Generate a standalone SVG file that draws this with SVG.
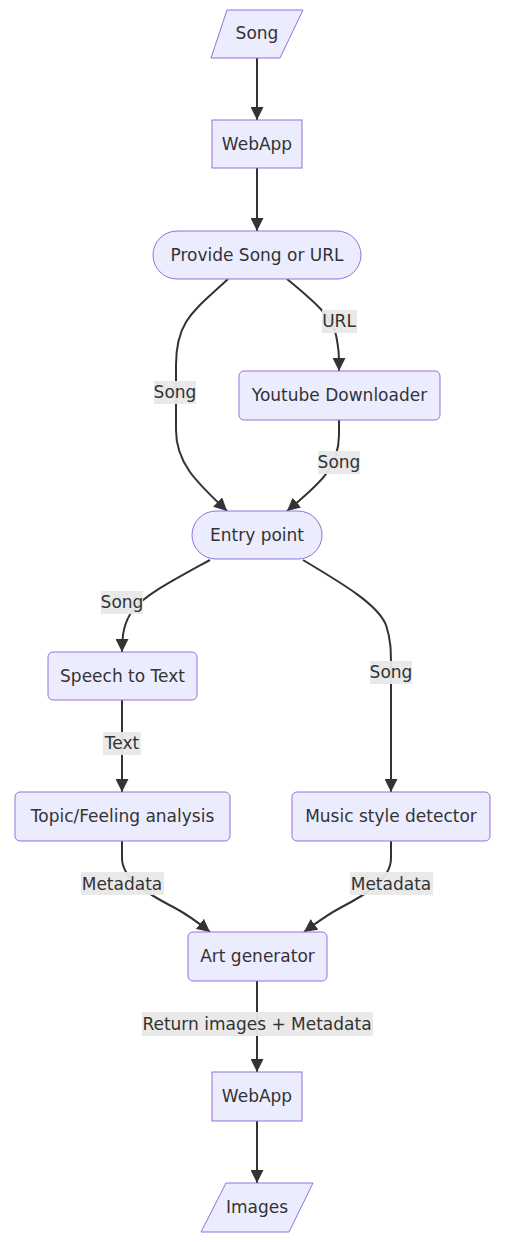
<svg xmlns="http://www.w3.org/2000/svg" width="507" height="1242" viewBox="0 0 507 1242">
<defs>
<marker id="arrow" viewBox="0 0 10 10" refX="10" refY="5" markerUnits="userSpaceOnUse" markerWidth="13" markerHeight="13" orient="auto">
<path d="M0,0 L10,5 L0,10 z" fill="#333333"/>
</marker>
</defs>
<style>
.node{fill:#ECECFF;stroke:#9370DB;stroke-width:1}
.lbl{font-family:"DejaVu Sans",Verdana,sans-serif;font-size:17px;fill:#333333;text-anchor:middle;dominant-baseline:central}
.edge{fill:none;stroke:#333333;stroke-width:2;marker-end:url(#arrow)}
.ebg{fill:#e8e8e8;opacity:0.95}
</style>
<rect width="507" height="1242" fill="#ffffff"/>
<g id="connectors">
<path class="edge" d="M257,58 L257,120"/>
<path class="edge" d="M257,168 L257,231"/>
<path class="edge" d="M228,279 C195,310 176,320 176,365 L176,430 C176,465 200,485 227,511"/>
<path class="edge" d="M287,279 C315,302 333,318 336,335 C339,350 339,355 339,371"/>
<path class="edge" d="M339,420 L339,435 C339,470 315,487 287,511"/>
<path class="edge" d="M210,560 C170,582 145,595 133,610 C124,622 122,635 122,652"/>
<path class="edge" d="M303,560 C345,585 378,605 386,625 C391,640 391,650 391,670 L391,792"/>
<path class="edge" d="M122,700 L122,792"/>
<path class="edge" d="M122,841 L122,858 C122,880 150,895 175,908 C190,916 200,924 210,932"/>
<path class="edge" d="M391,841 L391,858 C391,880 365,895 340,908 C325,916 315,924 304,932"/>
<path class="edge" d="M257,981 L257,1072"/>
<path class="edge" d="M257,1121 L257,1183"/>
<g id="edge-labels">
<rect class="ebg" x="154" y="381" width="42" height="23"/><text class="lbl" x="175" y="392">Song</text>
<rect class="ebg" x="322" y="310" width="35" height="23"/><text class="lbl" x="339" y="321">URL</text>
<rect class="ebg" x="318" y="451" width="42" height="23"/><text class="lbl" x="339" y="462">Song</text>
<rect class="ebg" x="101" y="591" width="42" height="23"/><text class="lbl" x="122" y="602">Song</text>
<rect class="ebg" x="370" y="661" width="42" height="23"/><text class="lbl" x="391" y="672">Song</text>
<rect class="ebg" x="103" y="732" width="38" height="23"/><text class="lbl" x="122" y="743">Text</text>
<rect class="ebg" x="81" y="872" width="83" height="23"/><text class="lbl" x="122" y="884">Metadata</text>
<rect class="ebg" x="350" y="872" width="83" height="23"/><text class="lbl" x="391" y="884">Metadata</text>
<rect class="ebg" x="142" y="1012" width="231" height="24"/><text class="lbl" x="257" y="1024">Return images + Metadata</text>
</g>
</g>
<g id="song-in"><polygon class="node" points="227,10 303,10 280,58 211,58"/><text class="lbl" x="257" y="33">Song</text></g>
<g id="webapp1"><rect class="node" x="212" y="120" width="90" height="48"/><text class="lbl" x="257" y="144">WebApp</text></g>
<g id="provide"><rect class="node" x="153" y="231" width="208" height="48" rx="24" ry="24"/><text class="lbl" x="257" y="255">Provide Song or URL</text></g>
<g id="youtube"><rect class="node" x="239" y="371" width="201" height="49" rx="5" ry="5"/><text class="lbl" x="339.5" y="395">Youtube Downloader</text></g>
<g id="entry"><rect class="node" x="192" y="511" width="130" height="48" rx="24" ry="24"/><text class="lbl" x="257" y="535">Entry point</text></g>
<g id="speech"><rect class="node" x="48" y="652" width="149" height="48" rx="5" ry="5"/><text class="lbl" x="122.5" y="676">Speech to Text</text></g>
<g id="topic"><rect class="node" x="15" y="792" width="215" height="49" rx="5" ry="5"/><text class="lbl" x="122.5" y="816">Topic/Feeling analysis</text></g>
<g id="music"><rect class="node" x="292" y="792" width="198" height="49" rx="5" ry="5"/><text class="lbl" x="391" y="816">Music style detector</text></g>
<g id="art"><rect class="node" x="188" y="932" width="139" height="49" rx="5" ry="5"/><text class="lbl" x="257.5" y="956">Art generator</text></g>
<g id="webapp2"><rect class="node" x="212" y="1072" width="90" height="49"/><text class="lbl" x="257" y="1096">WebApp</text></g>
<g id="images"><polygon class="node" points="226,1183 313,1183 289,1232 201,1232"/><text class="lbl" x="257" y="1207">Images</text></g>
</svg>
